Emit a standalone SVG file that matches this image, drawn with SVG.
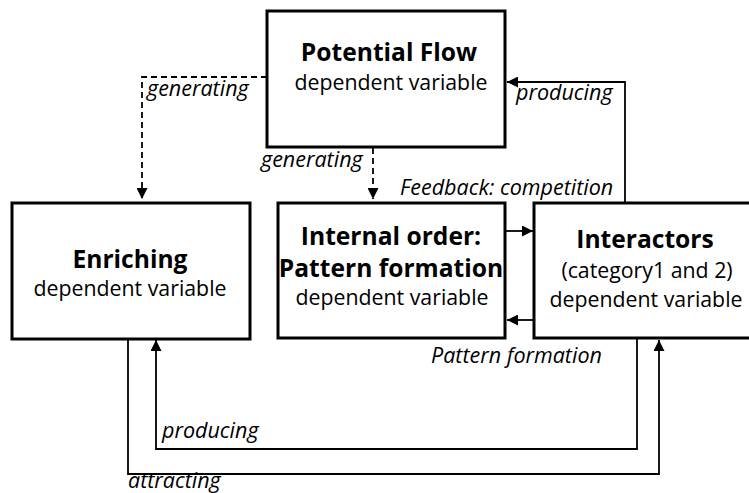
<svg xmlns="http://www.w3.org/2000/svg" width="749" height="493" viewBox="0 0 749 493">
  <defs>
    <marker id="arrow" viewBox="0 0 10 10" refX="10" refY="5" markerWidth="11" markerHeight="11" markerUnits="userSpaceOnUse" orient="auto">
      <path d="M0,0 L10,5 L0,10 Z" fill="#000" stroke="none"/>
    </marker>
    <style>
      .box { fill: #fff; stroke: #000; stroke-width: 3; }
      .title { font-family: "Open Sans", "Noto Sans", sans-serif; font-weight: bold; font-size: 24.6px; text-anchor: middle; fill: #000; }
      .sub { font-family: "Open Sans", "Noto Sans", sans-serif; font-size: 21.3px; text-anchor: middle; fill: #000; }
      .lbl { font-family: "Open Sans", "Noto Sans", sans-serif; font-style: italic; font-size: 21.5px; fill: #000; }
      .link { fill: none; stroke: #000; stroke-width: 1.8; }
      .dash { stroke-dasharray: 6 4; }
    </style>
  </defs>

  <!-- connectors -->
  <g id="connectors">
    <path class="link dash" d="M267,77 H142 V199" marker-end="url(#arrow)"/>
    <path class="link dash" d="M373,148 V199" marker-end="url(#arrow)"/>
    <path class="link" d="M625,203 V82 H507" marker-end="url(#arrow)"/>
    <path class="link" d="M505,231 H533" marker-end="url(#arrow)"/>
    <path class="link" d="M534,320 H507" marker-end="url(#arrow)"/>
    <path class="link" d="M637,339 V449 H156 V340" marker-end="url(#arrow)"/>
    <path class="link" d="M128,339 V474 H659 V340" marker-end="url(#arrow)"/>

    <text class="lbl" x="147" y="96">generating</text>
    <text class="lbl" x="261" y="167">generating</text>
    <text class="lbl" x="516" y="100">producing</text>
    <text class="lbl" x="400" y="195">Feedback: competition</text>
    <text class="lbl" x="431" y="363">Pattern formation</text>
    <text class="lbl" x="162" y="438">producing</text>
    <text class="lbl" x="128" y="488">attracting</text>
  </g>

  <!-- nodes -->
  <g id="potential-flow">
    <rect class="box" x="267" y="11" width="238" height="136"/>
    <text class="title" x="389" y="61">Potential Flow</text>
    <text class="sub" x="391" y="90">dependent variable</text>
  </g>

  <g id="enriching">
    <rect class="box" x="12" y="203" width="238" height="136"/>
    <text class="title" x="130" y="268">Enriching</text>
    <text class="sub" x="130" y="296">dependent variable</text>
  </g>

  <g id="internal-order">
    <rect class="box" x="278" y="203" width="227" height="135"/>
    <text class="title" x="391" y="245">Internal order:</text>
    <text class="title" x="391" y="277">Pattern formation</text>
    <text class="sub" x="392" y="305">dependent variable</text>
  </g>

  <g id="interactors">
    <rect class="box" x="534" y="203" width="226" height="135"/>
    <text class="title" x="645" y="248">Interactors</text>
    <text class="sub" x="647" y="278">(category1 and 2)</text>
    <text class="sub" x="646" y="307">dependent variable</text>
  </g>
</svg>
